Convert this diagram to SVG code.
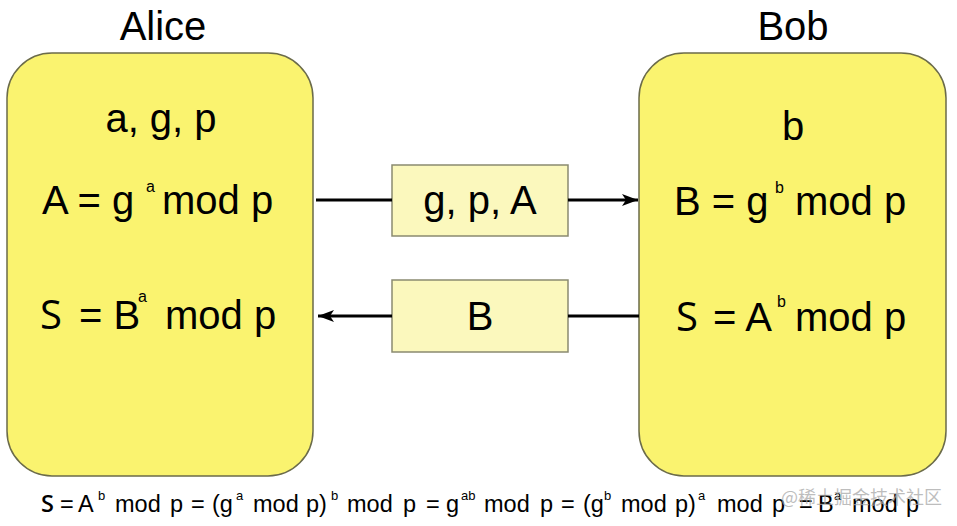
<svg xmlns="http://www.w3.org/2000/svg" width="957" height="526" viewBox="0 0 957 526">
<style>
.party{fill:#faf36f;stroke:#6b6b4a;stroke-width:1.5}
.msg{fill:#fbf8bd;stroke:#8a8a70;stroke-width:1.5}
.t{font-family:"Liberation Sans",Arial,sans-serif;fill:#000}
.big{font-size:40px}
.sup{font-size:16px}
.s{font-family:"Open Sans","Noto Sans",sans-serif}
.sb{font-family:"Open Sans","Noto Sans",sans-serif;font-weight:600}
.f{font-size:23.5px}
.fs{font-size:13px}
.line{stroke:#000;stroke-width:3;fill:none}
</style>
<defs>
<marker id="ah" viewBox="0 0 16 12" refX="16" refY="6" markerWidth="16" markerHeight="12" markerUnits="userSpaceOnUse" orient="auto">
<path d="M0,0 L16,6 L0,12 L4,6 Z" fill="#000"/>
</marker>
</defs>
<rect width="957" height="526" fill="#fff"/>
<g id="alice">
<rect class="party" x="7" y="53" width="306" height="423" rx="45" ry="45"/>
<text class="t big" x="163" y="40" text-anchor="middle">Alice</text>
<text class="t big" x="161" y="132" text-anchor="middle">a, g, p</text>
<text class="t big" y="214"><tspan x="42">A = g</tspan><tspan class="sup" x="146" y="192">a</tspan><tspan x="162" y="214">mod p</tspan></text>
<text class="t big" y="329"><tspan class="s" x="40">S</tspan><tspan x="79">= B</tspan><tspan class="sup" x="138" y="302">a</tspan><tspan x="165" y="329">mod p</tspan></text>
</g>
<g id="bob">
<rect class="party" x="639" y="53" width="307" height="423" rx="45" ry="45"/>
<text class="t big" x="793" y="40" text-anchor="middle">Bob</text>
<text class="t big" x="793" y="140" text-anchor="middle">b</text>
<text class="t big" y="215"><tspan x="674">B = g</tspan><tspan class="sup" x="775" y="193">b</tspan><tspan x="795" y="215">mod p</tspan></text>
<text class="t big" y="331"><tspan class="s" x="676">S</tspan><tspan x="713">= A</tspan><tspan class="sup" x="777" y="307">b</tspan><tspan x="795" y="331">mod p</tspan></text>
</g>
<g id="msg-gpA">
<rect class="msg" x="392" y="165" width="176" height="71"/>
<text class="t big" x="480" y="214" text-anchor="middle">g, p, A</text>
</g>
<g id="msg-B">
<rect class="msg" x="392" y="280" width="176" height="72"/>
<text class="t big" x="480" y="330" text-anchor="middle">B</text>
</g>
<g id="connectors">
<line class="line" x1="316" y1="200" x2="392" y2="200"/>
<line class="line" x1="568" y1="200" x2="638" y2="200" marker-end="url(#ah)"/>
<line class="line" x1="639" y1="316" x2="568" y2="316"/>
<line class="line" x1="392" y1="316" x2="318" y2="316" marker-end="url(#ah)"/>
</g>
<g id="formula">
<text class="t f" y="512"><tspan class="sb" x="41">S</tspan><tspan x="60">=</tspan><tspan x="78">A</tspan><tspan class="fs" x="98" y="500">b</tspan><tspan x="115" y="512">mod</tspan><tspan x="170">p</tspan><tspan x="191">=</tspan><tspan x="212">(g</tspan><tspan class="fs" x="236" y="500">a</tspan><tspan x="253" y="512">mod</tspan><tspan x="306">p)</tspan><tspan class="fs" x="331" y="500">b</tspan><tspan x="347" y="512">mod</tspan><tspan x="403">p</tspan><tspan x="426">=</tspan><tspan x="446">g</tspan><tspan class="fs" x="461" y="500">ab</tspan><tspan x="484" y="512">mod</tspan><tspan x="540">p</tspan><tspan x="561">=</tspan><tspan x="583">(g</tspan><tspan class="fs" x="604" y="500">b</tspan><tspan x="621" y="512">mod</tspan><tspan x="675">p)</tspan><tspan class="fs" x="698" y="500">a</tspan><tspan x="717" y="512">mod</tspan><tspan x="772">p</tspan><tspan x="799">=</tspan><tspan x="818">B</tspan><tspan class="fs" x="834" y="500">a</tspan><tspan x="852" y="512">mod</tspan><tspan x="906">p</tspan></text>
</g>
<text x="781" y="504" font-family="'Noto Sans CJK SC','Noto Sans',sans-serif" font-size="18" fill="#a8a8a8" fill-opacity="0.75">@稀土掘金技术社区</text>
</svg>
